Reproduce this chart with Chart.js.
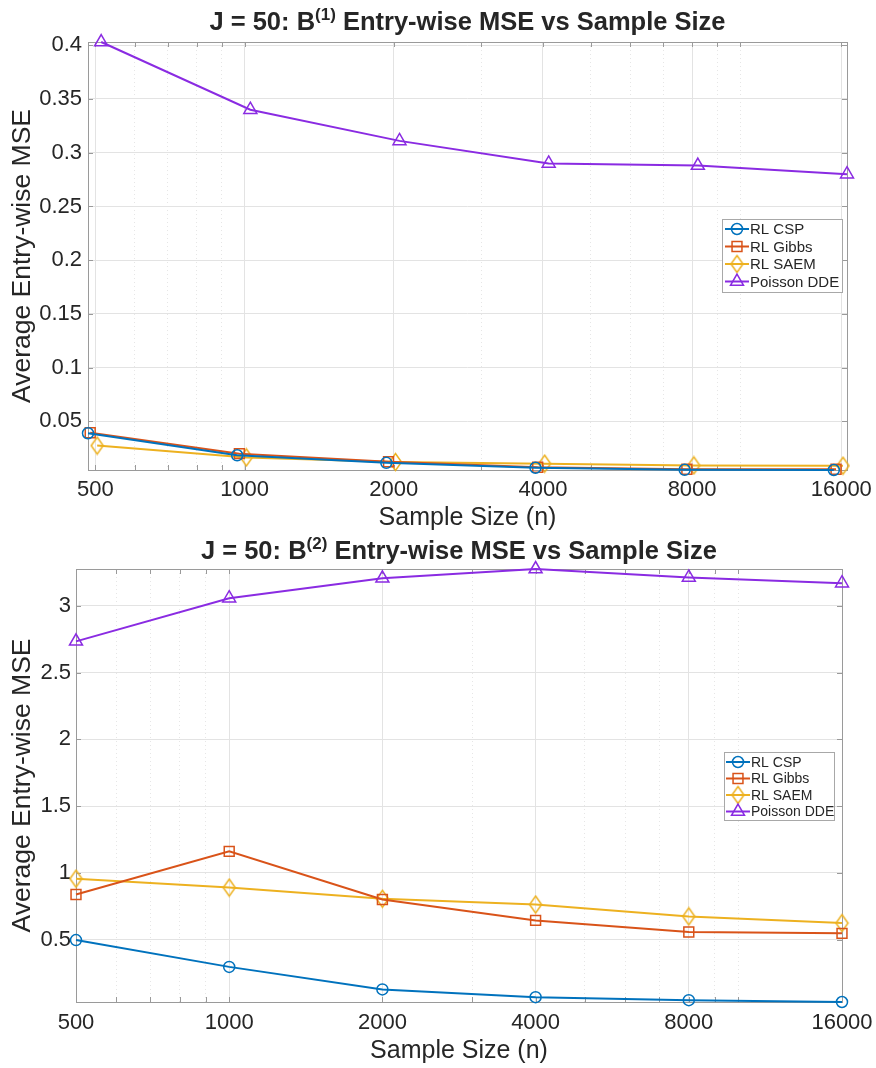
<!DOCTYPE html>
<html>
<head>
<meta charset="utf-8">
<script src="https://cdn.jsdelivr.net/npm/chart.js@4.4.1/dist/chart.umd.min.js"></script>
<style>
  body { margin: 0; background: #fff; }
  canvas { display: block; }
</style>
</head>
<body>
<canvas id="b1" width="876" height="534"></canvas>
<canvas id="b2" width="876" height="534"></canvas>
<script>
// sample sizes (x axis, log2 spaced) and the unlabeled minor grid positions
const sampleSizes = [500, 1000, 2000, 4000, 8000, 16000];
const minorTicks = [600, 700, 800, 900, 3000, 5000, 6000, 7000, 9000, 10000];
const seriesNames = ['RL CSP', 'RL Gibbs', 'RL SAEM', 'Poisson DDE'];

// B(1) panel: markers are nudged sideways per method so they don't sit on top of each other
const xShiftB1 = [0.966, 0.976, 1.008, 1.027];
const xShiftB2 = [1, 1, 1, 1];

// B(1) entry-wise MSE
const cspB1   = [0.0390, 0.0185, 0.0115, 0.0069, 0.0050, 0.0048];
const gibbsB1 = [0.0395, 0.0200, 0.0125, 0.0074, 0.0055, 0.0055];
const saemB1  = [0.0275, 0.0165, 0.0122, 0.0107, 0.0091, 0.0088];
const ddeB1   = [0.403, 0.340, 0.311, 0.290, 0.288, 0.280];

// B(2) entry-wise MSE
const cspB2   = [0.497, 0.296, 0.127, 0.069, 0.047, 0.033];
const gibbsB2 = [0.838, 1.161, 0.801, 0.644, 0.557, 0.547];
const saemB2  = [0.957, 0.890, 0.806, 0.763, 0.674, 0.624];
const ddeB2   = [2.734, 3.057, 3.206, 3.276, 3.213, 3.170];

const yTicksB1 = [0.05, 0.1, 0.15, 0.2, 0.25, 0.3, 0.35, 0.4];
const yTicksB2 = [0.5, 1, 1.5, 2, 2.5, 3];

const FONT = '"Liberation Sans", Arial, Helvetica, sans-serif';
const TXT = '#262626';
const AXIS = '#9a9a9a';
const colors = ['#0072BD', '#D95319', '#EDB120', '#8A2BE2'];

// tall open diamond like matlab's 'd' marker
function diamond(color) {
  const c = document.createElement('canvas');
  c.width = 15; c.height = 20;
  const g = c.getContext('2d');
  g.strokeStyle = color; g.lineWidth = 1.5;
  g.beginPath();
  g.moveTo(7.5, 1.5); g.lineTo(13.5, 10); g.lineTo(7.5, 18.5); g.lineTo(1.5, 10);
  g.closePath(); g.stroke();
  return c;
}
const markers = ['circle', 'rect', diamond(colors[2]), 'triangle'];
const radii = [5.5, 7, 7, 7.5];

function drawMarker(ctx, style, x, y, r, color) {
  if (typeof style !== 'string') {
    ctx.drawImage(style, x - style.width / 2, y - style.height / 2);
    return;
  }
  ctx.save();
  ctx.strokeStyle = color; ctx.lineWidth = 1.5;
  ctx.beginPath();
  if (style === 'circle') ctx.arc(x, y, r, 0, Math.PI * 2);
  else if (style === 'rect') { const s = r * Math.SQRT1_2; ctx.rect(x - s, y - s, 2 * s, 2 * s); }
  else if (style === 'triangle') {
    ctx.moveTo(x, y - r);
    ctx.lineTo(x + r * 0.866, y + r / 2);
    ctx.lineTo(x - r * 0.866, y + r / 2);
    ctx.closePath();
  }
  ctx.stroke();
  ctx.restore();
}

// axes box with inward tick marks
const frame = {
  id: 'frame',
  beforeDatasetsDraw(chart) {
    const {ctx, chartArea: a, scales} = chart;
    ctx.save();
    ctx.strokeStyle = AXIS; ctx.lineWidth = 1;
    ctx.strokeRect(a.left + 0.5, a.top + 0.5, a.right - a.left, a.bottom - a.top);
    ctx.beginPath();
    scales.x.ticks.forEach(t => {
      const px = Math.round(scales.x.getPixelForValue(t.value)) + 0.5;
      ctx.moveTo(px, a.bottom); ctx.lineTo(px, a.bottom - 5);
      ctx.moveTo(px, a.top); ctx.lineTo(px, a.top + 5);
    });
    scales.y.ticks.forEach(t => {
      const py = Math.round(scales.y.getPixelForValue(t.value)) + 0.5;
      ctx.moveTo(a.left, py); ctx.lineTo(a.left + 5, py);
      ctx.moveTo(a.right, py); ctx.lineTo(a.right - 5, py);
    });
    ctx.stroke();
    ctx.restore();
  }
};

// title with a superscript
const supTitle = {
  id: 'supTitle',
  afterDraw(chart, args, o) {
    const {ctx, chartArea: a} = chart;
    const big = `bold ${o.size}px ${FONT}`, small = `bold ${o.supSize}px ${FONT}`;
    ctx.save();
    ctx.fillStyle = TXT; ctx.textBaseline = 'alphabetic'; ctx.textAlign = 'left';
    ctx.font = big;
    const w1 = ctx.measureText(o.pre).width, w3 = ctx.measureText(o.post).width;
    ctx.font = small;
    const w2 = ctx.measureText(o.sup).width;
    let x = (a.left + a.right) / 2 - (w1 + w2 + w3) / 2;
    ctx.font = big; ctx.fillText(o.pre, x, o.baseline); x += w1;
    ctx.font = small; ctx.fillText(o.sup, x, o.baseline - o.raise); x += w2;
    ctx.font = big; ctx.fillText(o.post, x, o.baseline);
    ctx.restore();
  }
};

// legend box inside the axes
const boxLegend = {
  id: 'boxLegend',
  afterDraw(chart, args, o) {
    const ctx = chart.ctx;
    ctx.save();
    ctx.fillStyle = '#fff';
    ctx.fillRect(o.x, o.y, o.w, o.h);
    ctx.strokeStyle = '#a8a8a8'; ctx.lineWidth = 1;
    ctx.strokeRect(o.x + 0.5, o.y + 0.5, o.w, o.h);
    chart.data.datasets.forEach((ds, i) => {
      const cy = o.y + o.first + i * o.row;
      ctx.strokeStyle = ds.borderColor; ctx.lineWidth = ds.borderWidth;
      ctx.beginPath();
      ctx.moveTo(o.x + o.l0, cy); ctx.lineTo(o.x + o.l1, cy);
      ctx.stroke();
      drawMarker(ctx, ds.pointStyle, o.x + (o.l0 + o.l1) / 2, cy, ds.pointRadius, ds.borderColor);
      ctx.fillStyle = TXT;
      ctx.font = `${o.fontSize}px ${FONT}`;
      ctx.textBaseline = 'middle';
      ctx.fillText(ds.label, o.x + o.tx, cy + 1);
    });
    ctx.restore();
  }
};

function panel(id, values, xShift, yTicks, lay) {
  const xs = seriesNames.map((_, i) => sampleSizes.map(n => n * xShift[i]));
  const allY = values.flat();
  const allX = xs.flat();
  const gridTicks = sampleSizes.concat(minorTicks).sort((a, b) => a - b);

  new Chart(document.getElementById(id), {
    type: 'line',
    data: {
      datasets: seriesNames.map((name, i) => ({
        label: name,
        data: sampleSizes.map((n, j) => ({x: xs[i][j], y: values[i][j]})),
        borderColor: colors[i],
        backgroundColor: colors[i],
        borderWidth: 2,
        pointStyle: markers[i],
        pointRadius: radii[i],
        pointBorderWidth: 1.5,
        pointBackgroundColor: 'rgba(0,0,0,0)',
        pointBorderColor: colors[i],
        tension: 0,
        fill: false,
        clip: false
      }))
    },
    options: {
      responsive: false,
      animation: false,
      events: [],
      layout: {padding: {top: lay.top, right: lay.right, left: 0, bottom: 0}},
      plugins: {
        legend: {display: false},
        tooltip: {enabled: false},
        supTitle: lay.title,
        boxLegend: lay.legend
      },
      scales: {
        x: {
          type: 'logarithmic',
          min: Math.min(...allX),
          max: Math.max(...allX),
          afterBuildTicks: s => {
            s.ticks = gridTicks.filter(v => v >= s.min && v <= s.max)
              .map(v => ({value: v, minor: !sampleSizes.includes(v)}));
          },
          afterFit: s => { s.height = lay.xh; s.paddingLeft = 0; s.paddingRight = 0; },
          grid: {
            color: c => (c.tick && c.tick.minor) ? '#e6e6e6' : '#e3e3e3',
            lineWidth: 1,
            drawTicks: false
          },
          border: {display: false, dash: c => (c.tick && c.tick.minor) ? [1, 3] : []},
          ticks: {
            autoSkip: false, maxRotation: 0, padding: lay.xpad, color: TXT,
            font: {family: FONT, size: 22},
            callback: v => sampleSizes.includes(v) ? String(v) : ''
          },
          title: {
            display: true, text: 'Sample Size (n)', color: TXT,
            font: {family: FONT, size: 25}, padding: {top: 0, bottom: lay.xtp}
          }
        },
        y: {
          type: 'linear',
          min: Math.min(...allY),
          max: Math.max(...allY),
          afterBuildTicks: s => { s.ticks = yTicks.map(v => ({value: v})); },
          afterFit: s => { s.width = lay.yw; s.paddingTop = 0; s.paddingBottom = 0; },
          grid: {color: '#e3e3e3', lineWidth: 1, drawTicks: false},
          border: {display: false},
          ticks: {
            padding: lay.ypad, color: TXT, font: {family: FONT, size: 22},
            callback: v => String(v)
          },
          title: {
            display: true, text: 'Average Entry-wise MSE', color: TXT,
            font: {family: FONT, size: 26.5}, padding: {top: lay.ytp, bottom: 0}
          }
        }
      }
    },
    plugins: [frame, supTitle, boxLegend]
  });
}

panel('b1', [cspB1, gibbsB1, saemB1, ddeB1], xShiftB1, yTicksB1, {
  top: 42, right: 29, yw: 88, xh: 64, xpad: 7, ypad: 6, xtp: 1, ytp: 7,
  title: {pre: 'J = 50: B', sup: '(1)', post: ' Entry-wise MSE vs Sample Size',
          size: 25.5, supSize: 17, raise: 10, baseline: 30},
  legend: {x: 722, y: 219, w: 120, h: 73, first: 10, row: 17.5, l0: 3, l1: 27, tx: 28, fontSize: 15}
});

panel('b2', [cspB2, gibbsB2, saemB2, ddeB2], xShiftB2, yTicksB2, {
  top: 35, right: 34, yw: 76, xh: 66, xpad: 8, ypad: 5, xtp: 2, ytp: 7,
  title: {pre: 'J = 50: B', sup: '(2)', post: ' Entry-wise MSE vs Sample Size',
          size: 25.5, supSize: 17, raise: 10, baseline: 25},
  legend: {x: 724, y: 218, w: 110, h: 68, first: 10, row: 16.5, l0: 2, l1: 26, tx: 27, fontSize: 14}
});
</script>
</body>
</html>
